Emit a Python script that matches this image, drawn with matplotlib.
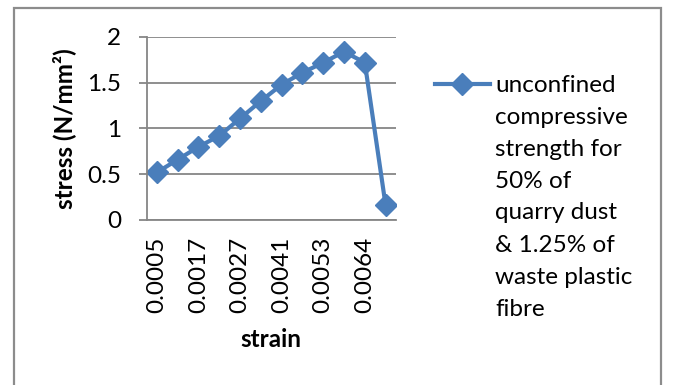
import matplotlib.pyplot as plt
from matplotlib.patches import Rectangle
from matplotlib.lines import Line2D
import numpy as np

# strain categories (only every other label is printed on the axis)
strain = ["0.0005", "0.0011", "0.0017", "0.0022", "0.0027", "0.0034",
          "0.0041", "0.0047", "0.0053", "0.0058", "0.0064", "0.0070"]
stress = [0.52, 0.66, 0.80, 0.92, 1.11, 1.30, 1.48, 1.61, 1.72, 1.84, 1.72, 0.16]
yticks = [0, 0.5, 1, 1.5, 2]
ytick_labels = ["0", "0.5", "1", "1.5", "2"]
series_lines = ["unconfined", "compressive", "strength for", "50% of",
                "quarry dust", "& 1.25% of", "waste plastic", "fibre"]

plt.rcParams['font.family'] = ['Lato', 'DejaVu Sans']

blue = "#4a7ebb"
grey = "#868686"
fs = 17.5

fig = plt.figure(figsize=(6.77, 3.85), dpi=100)
W, H = 677, 385

# outer chart frame
fig.patches.append(Rectangle((14 / W, -0.05), (661 - 14) / W, 1.05 - 8 / H,
                             transform=fig.transFigure, fill=False,
                             edgecolor="#8c8c8c", linewidth=1.6))

ax = fig.add_axes([146.5 / W, 1 - 220 / H, (396 - 146.5) / W, (220 - 37) / H])
x = np.arange(len(strain))
ax.plot(x, stress, color=blue, linewidth=3, marker="D",
        markersize=11, markerfacecolor=blue, markeredgecolor=blue,
        solid_joinstyle="round")

ax.set_xlim(-0.5, len(strain) - 0.5)
ax.set_ylim(0, 2)
ax.set_yticks(yticks)
ax.set_yticklabels(ytick_labels)
ax.set_xticks(x[::2])
ax.set_xticklabels(strain[::2], rotation=90)

ax.yaxis.grid(True, color=grey, linewidth=1.3)
ax.set_axisbelow(True)
for s in ["top", "right"]:
    ax.spines[s].set_visible(False)
for s in ["left", "bottom"]:
    ax.spines[s].set_color(grey)
    ax.spines[s].set_linewidth(1.3)

ax.tick_params(axis="y", length=6, width=1.3, color=grey, pad=12, labelsize=fs)
ax.tick_params(axis="x", length=0, pad=12, labelsize=fs)

ax.set_ylabel("stress (N/mm²)", fontsize=fs, fontweight="bold", labelpad=8)
ax.set_xlabel("strain", fontsize=fs, fontweight="bold", labelpad=11)

# legend: sample line with marker, then the wrapped series name
fig.lines.append(Line2D([435 / W, 490 / W], [1 - 84 / H, 1 - 84 / H],
                        transform=fig.transFigure, color=blue, linewidth=3))
fig.lines.append(Line2D([462 / W], [1 - 84 / H], transform=fig.transFigure,
                        color=blue, marker="D", markersize=11))
for i, txt in enumerate(series_lines):
    fig.text(495 / W, 1 - (85 + 32 * i) / H, txt, fontsize=fs,
             ha="left", va="center")

fig.savefig("out.png", dpi=100)
